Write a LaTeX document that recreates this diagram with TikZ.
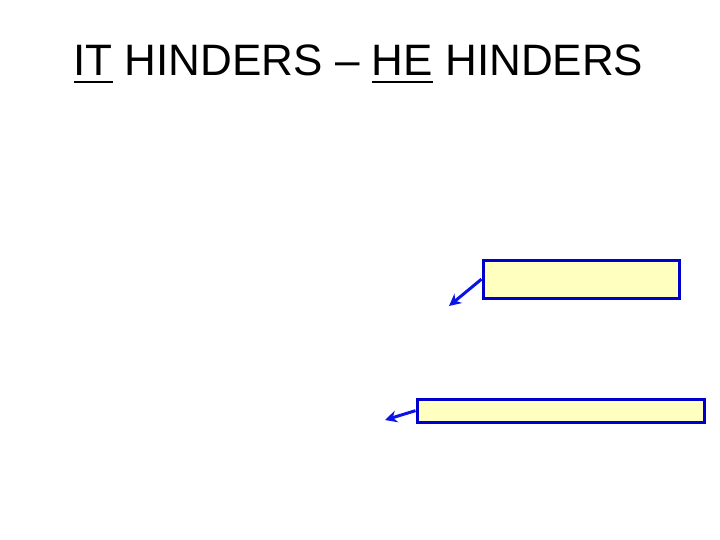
\documentclass[tikz,border=0pt]{standalone}
\usepackage{fontspec}
\setmainfont{Liberation Sans}
\usetikzlibrary{arrows.meta}

\definecolor{boxfill}{HTML}{FFFFC0}
\definecolor{boxline}{HTML}{0000CC}
\definecolor{arrowblue}{HTML}{0A14E6}

\newcommand\ulword[1]{\setbox0\hbox{#1}\rlap{\rule[-7.5pt]{\wd0}{2.6pt}}#1}

\tikzset{
  answerbox/.style={draw=boxline, fill=boxfill, line width=3.3pt,
    inner sep=0pt, anchor=north west},
  pointer/.style={draw=arrowblue, line width=3pt, -{Stealth[length=12pt,width=12pt]}}
}

\begin{document}
\begin{tikzpicture}[x=1pt,y=-1pt]
        \useasboundingbox (0,0) rectangle (720,540);
        % title
        \node[anchor=base, font=\fontsize{44}{52}\selectfont] (title) at (358.5,76)
            {\ulword{IT} HINDERS -- \ulword{HE} HINDERS};
        % boxes
        \node[answerbox, minimum width=196pt, minimum height=38pt] (itbox) at (481.5,258.5) {};
        \node[answerbox, minimum width=287pt, minimum height=23pt] (hebox) at (415.5,397.5) {};
        \coordinate (ittip) at (449,306);
        \coordinate (hetip) at (385,420);
        \draw[pointer] (itbox.west) -- (ittip);
        \draw[pointer] (hebox.west) -- (hetip);
\end{tikzpicture}
\end{document}
